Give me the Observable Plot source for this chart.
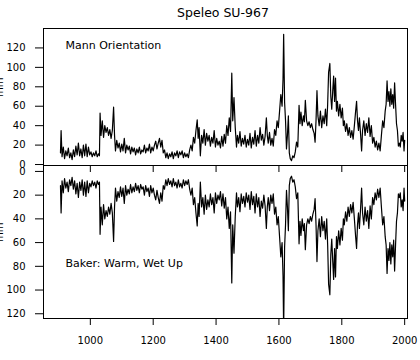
<!DOCTYPE html>
<html>
<head>
<meta charset="utf-8">
<script src="https://cdn.jsdelivr.net/npm/d3@7"></script>
<script src="https://cdn.jsdelivr.net/npm/@observablehq/plot@0.6"></script>
<style>
  html, body { margin: 0; padding: 0; background: #fff; }
  #chart { position: relative; width: 420px; height: 360px; overflow: hidden; font-family: "DejaVu Sans", sans-serif; }
  #chart svg { position: absolute; left: 0; top: 0; }
  #title { position: absolute; left: 0; width: 446px; top: 5px; text-align: center; font-size: 12.5px; color: #000; }
</style>
</head>
<body>
<div id="chart"><div id="title">Speleo SU-967</div></div>
<script>
// Speleothem SU-967 series
const years = [905,907,910,914,918,922,926,930,934,938,942,946,950,954,958,962,966,970,974,978,982,986,990,994,998,1002,1006,1010,1014,1018,1022,1026,1029,1031,1034,1038,1042,1046,1050,1054,1058,1062,1066,1070,1074,1077,1080,1084,1088,1092,1096,1100,1104,1108,1112,1116,1120,1124,1128,1132,1136,1140,1144,1148,1152,1156,1160,1164,1168,1172,1176,1180,1184,1188,1192,1196,1200,1204,1208,1212,1216,1220,1224,1228,1232,1236,1240,1244,1248,1252,1256,1260,1264,1268,1272,1276,1280,1284,1288,1292,1296,1300,1304,1308,1312,1316,1320,1324,1328,1332,1336,1340,1343,1346,1350,1354,1358,1362,1366,1370,1374,1378,1382,1386,1390,1394,1398,1402,1406,1410,1414,1418,1422,1426,1430,1434,1438,1442,1446,1450,1453,1457,1461,1465,1468,1472,1476,1480,1484,1488,1492,1496,1500,1504,1508,1512,1516,1520,1524,1528,1532,1536,1540,1544,1548,1552,1556,1560,1563,1566,1570,1574,1578,1582,1586,1590,1594,1598,1602,1606,1610,1613,1615,1618,1621,1624,1627,1630,1633,1636,1640,1644,1648,1652,1656,1660,1664,1667,1670,1674,1678,1681,1684,1688,1692,1696,1700,1704,1708,1712,1715,1718,1721,1724,1728,1732,1736,1740,1744,1748,1752,1755,1758,1762,1765,1768,1771,1774,1777,1780,1783,1786,1790,1794,1798,1802,1805,1808,1812,1816,1820,1824,1828,1832,1836,1840,1844,1847,1850,1853,1856,1860,1863,1866,1870,1874,1878,1882,1886,1890,1894,1898,1902,1906,1910,1914,1918,1922,1926,1930,1934,1938,1941,1944,1947,1950,1953,1956,1959,1962,1965,1968,1971,1974,1977,1980,1983,1986,1989,1992,1995,1998,2000];
const mm = [12,35,8,18,6,14,9,17,7,12,5,15,8,19,10,22,9,16,7,20,9,21,8,18,10,13,8,12,9,14,8,11,9,53,30,45,28,40,33,38,30,36,27,35,59,30,14,25,17,22,13,21,14,27,12,20,15,19,11,18,13,17,10,16,12,18,11,15,13,20,12,17,14,21,12,18,14,20,24,16,22,27,18,25,12,15,7,12,6,11,8,13,6,12,9,14,7,13,10,14,7,12,8,11,7,15,20,14,28,22,35,46,27,38,9,30,22,36,20,32,24,30,19,28,22,35,18,27,20,24,17,29,19,31,22,40,30,48,34,94,45,69,38,18,30,22,34,19,27,21,30,18,26,20,32,17,28,21,35,19,30,22,38,25,31,20,29,48,30,22,33,20,27,19,36,30,45,38,55,72,60,88,134,64,45,16,30,50,12,6,4,9,7,13,23,18,61,42,54,40,50,44,66,45,40,44,38,42,36,32,23,45,76,50,40,55,38,50,42,57,40,62,95,104,70,57,75,91,65,89,55,65,50,62,48,58,40,45,34,42,30,38,28,35,26,40,55,65,45,35,48,30,14,35,45,30,42,33,48,29,40,22,28,18,24,15,22,14,30,45,38,55,62,86,65,75,60,78,62,72,58,84,62,42,35,19,22,18,30,24,33,14,25];
const xTicks = [1000, 1200, 1400, 1600, 1800, 2000];
const yTicks = [0, 20, 40, 60, 80, 100, 120];

const data = years.map((y, i) => ({year: y, mm: mm[i]}));
const font = "DejaVu Sans, sans-serif";
const style = {fontFamily: font, fontSize: "10px", background: "transparent", color: "#000", overflow: "visible"};

const topPanel = Plot.plot({
  width: 420, height: 360,
  marginLeft: 43, marginRight: 13, marginTop: 28, marginBottom: 195,
  style,
  x: {domain: [851, 2009], ticks: xTicks, tickSize: 7, tickFormat: () => "", label: null},
  y: {domain: [-1, 140], ticks: yTicks, tickSize: 8, tickPadding: 10, label: null},
  marks: [
    Plot.frame({stroke: "#000"}),
    Plot.line(data, {x: "year", y: "mm", stroke: "#000", strokeWidth: 1.2, clip: true}),
    Plot.text(["Mann Orientation"], {frameAnchor: "top-left", dx: 22, dy: 17, textAnchor: "start", lineAnchor: "middle", fontSize: 11}),
    Plot.text(["mm"], {frameAnchor: "left", dx: -44, rotate: -90, fontSize: 10})
  ]
});

const bottomPanel = Plot.plot({
  width: 420, height: 360,
  marginLeft: 43, marginRight: 13, marginTop: 165, marginBottom: 42,
  style,
  x: {domain: [851, 2009], ticks: xTicks, tickSize: 7, tickPadding: 11, tickFormat: d3.format("d"), label: null},
  y: {domain: [-5, 124], reverse: true, ticks: yTicks, tickSize: 8, tickPadding: 10, label: null},
  marks: [
    Plot.frame({stroke: "#000"}),
    Plot.line(data, {x: "year", y: "mm", stroke: "#000", strokeWidth: 1.2, clip: true}),
    Plot.text(["Baker: Warm, Wet Up"], {frameAnchor: "top-left", dx: 22, dy: 98, textAnchor: "start", lineAnchor: "middle", fontSize: 11}),
    Plot.text(["mm"], {frameAnchor: "left", dx: -44, rotate: -90, fontSize: 10})
  ]
});

const chart = document.getElementById("chart");
chart.appendChild(bottomPanel);
chart.appendChild(topPanel);
</script>
</body>
</html>
